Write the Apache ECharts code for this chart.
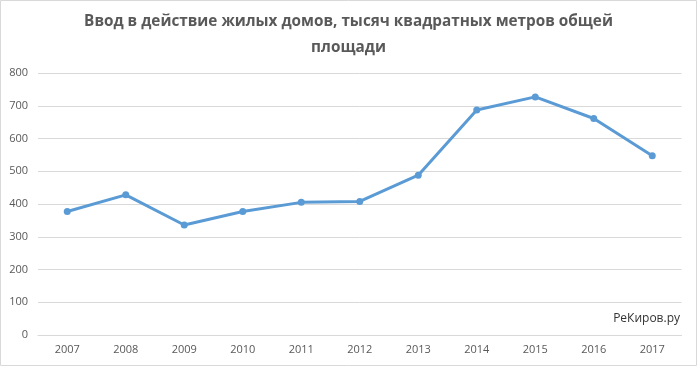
<!DOCTYPE html>
<html><head><meta charset="utf-8">
<script src="https://cdn.jsdelivr.net/npm/echarts@6/dist/echarts.min.js"></script>
<style>html,body{margin:0;padding:0;background:#fff}#c{width:697px;height:366px}</style>
</head><body><div id="c"></div>
<script>
const years = ['2007','2008','2009','2010','2011','2012','2013','2014','2015','2016','2017'];
const values = [377, 428, 336, 377, 405, 408, 488, 687, 727, 661, 547];
const titleLines = ['Ввод в действие жилых домов, тысяч квадратных метров общей', 'площади'];
const watermark = 'РеКиров.ру';

const chart = echarts.init(document.getElementById('c'), null, {renderer:'canvas'});
chart.setOption({
  animation:false,
  backgroundColor:'#fff',
  title:{
    text: titleLines.join('\n'),
    left:'center', top:4,
    textStyle:{fontFamily:'Open Sans', fontWeight:'bold', fontSize:15.3, color:'#595959', lineHeight:26}
  },
  graphic:[
    {type:'rect', shape:{x:0.5,y:0.5,width:696,height:365}, style:{fill:'none', stroke:'#d9d9d9', lineWidth:1}, silent:true},
    {type:'text', right:17, top:313, style:{text:watermark, fontFamily:'Open Sans', fontSize:12, fill:'#333'}}
  ],
  grid:{left:38, right:15.5, top:73, bottom:31},
  xAxis:{
    type:'category', data:years, boundaryGap:true,
    axisLine:{show:true, lineStyle:{color:'#d9d9d9'}},
    axisTick:{show:false},
    axisLabel:{color:'#595959', fontFamily:'Open Sans', fontSize:11, margin:9}
  },
  yAxis:{
    type:'value', min:0, max:800, interval:100,
    axisLine:{show:false}, axisTick:{show:false},
    axisLabel:{color:'#595959', fontFamily:'Open Sans', fontSize:11, margin:10},
    splitLine:{lineStyle:{color:'#d9d9d9'}}
  },
  series:[{
    type:'line', data:values,
    lineStyle:{color:'#5b9bd5', width:3},
    itemStyle:{color:'#5b9bd5'},
    symbol:'circle', symbolSize:7
  }]
});
</script></body></html>
